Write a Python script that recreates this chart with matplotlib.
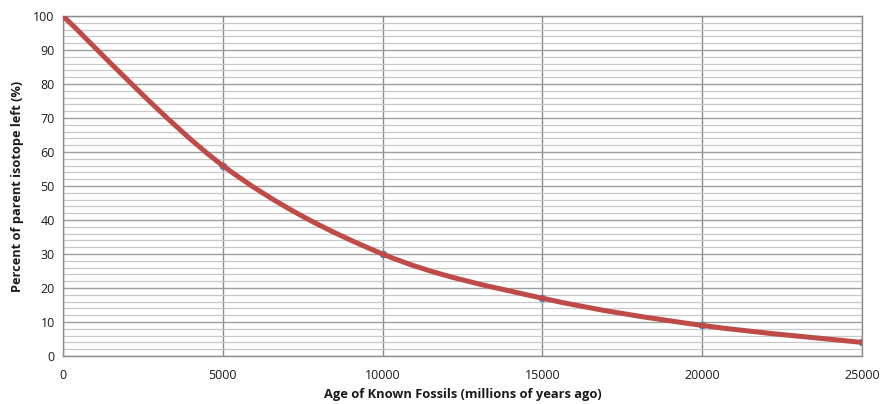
import matplotlib
matplotlib.use("Agg")
import matplotlib.pyplot as plt
from matplotlib.path import Path
from matplotlib.patches import PathPatch
import numpy as np

age = [0, 5000, 10000, 15000, 20000, 25000]
percent = [100, 56, 30, 17, 9, 4]
x_ticks = [0, 5000, 10000, 15000, 20000, 25000]
y_ticks = [0, 10, 20, 30, 40, 50, 60, 70, 80, 90, 100]

plt.rcParams['font.family'] = ['Open Sans', 'DejaVu Sans']

fig = plt.figure(figsize=(8.8, 4.04), dpi=100)
ax = fig.add_axes([0.0716, 0.1188, 0.9079, 0.8416])
ax.set_xlim(0, 25000)
ax.set_ylim(0, 100)

ax.set_yticks(y_ticks)
ax.set_yticks(np.arange(0, 101, 2), minor=True)
ax.set_xticks(x_ticks)
ax.grid(which='major', axis='x', color='#8a8a8a', linewidth=1.0)
ax.grid(which='major', axis='y', color='#9e9e9e', linewidth=1.0)
ax.grid(which='minor', axis='y', color='#c8c8c8', linewidth=0.9)
ax.set_axisbelow(True)
for s in ax.spines.values():
    s.set_color('#8c8c8c')
    s.set_linewidth(1.0)
ax.tick_params(which='both', length=0, labelsize=9, colors='#1a1a1a', pad=6)
ax.tick_params(axis='x', pad=9)

# markers (mostly hidden under the line)
ax.plot(age, percent, linestyle='none', marker='o', markersize=4.5,
        color='#4f81bd', zorder=2)

# smoothed line (Catmull-Rom style Bezier through data points)
xs = np.array(age, dtype=float)
ys = np.array(percent, dtype=float)
verts = [(xs[0], ys[0])]
codes = [Path.MOVETO]
n = len(xs)
t = 1.0 / 6.0
for i in range(n - 1):
    p0 = (xs[i - 1], ys[i - 1]) if i > 0 else (xs[i], ys[i])
    p1 = (xs[i], ys[i])
    p2 = (xs[i + 1], ys[i + 1])
    p3 = (xs[i + 2], ys[i + 2]) if i + 2 < n else (xs[i + 1], ys[i + 1])
    c1 = (p1[0] + (p2[0] - p0[0]) * t, p1[1] + (p2[1] - p0[1]) * t)
    c2 = (p2[0] - (p3[0] - p1[0]) * t, p2[1] - (p3[1] - p1[1]) * t)
    verts += [c1, c2, p2]
    codes += [Path.CURVE4] * 3
patch = PathPatch(Path(verts, codes), facecolor='none', edgecolor='#be4b48',
                  linewidth=3.6, capstyle='butt', joinstyle='round', zorder=3)
ax.add_patch(patch)

ax.set_xlabel('Age of Known Fossils (millions of years ago)', fontsize=9.3,
              fontweight='bold', color='#1a1a1a', labelpad=5)
ax.set_ylabel('Percent of parent isotope left (%)', fontsize=9.2,
              fontweight='bold', color='#1a1a1a', labelpad=7)

fig.savefig('out.png', dpi=100, facecolor='white')
